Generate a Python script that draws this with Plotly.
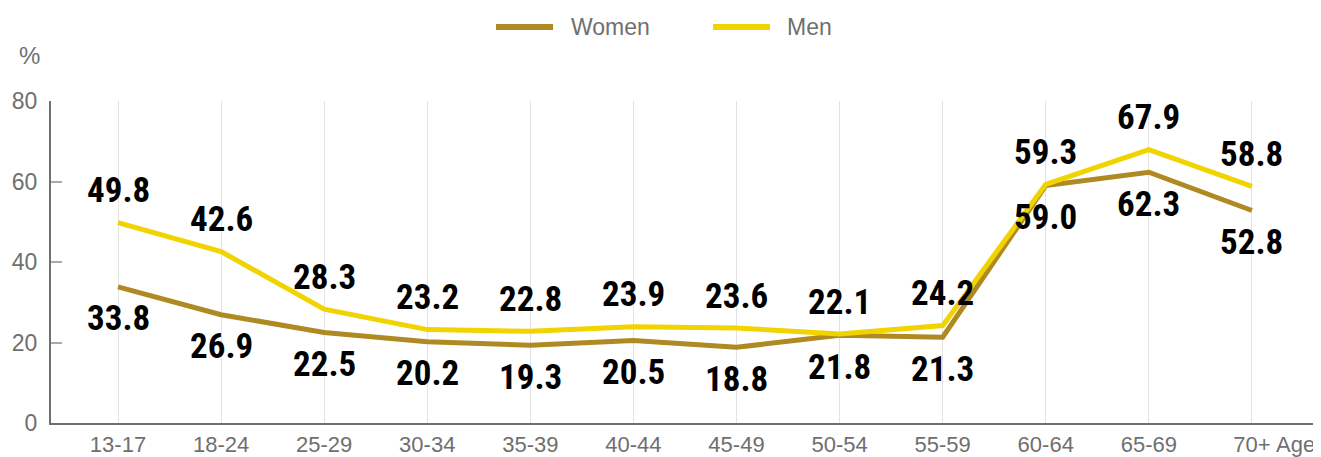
import plotly.graph_objects as go

categories = ["13-17", "18-24", "25-29", "30-34", "35-39", "40-44", "45-49",
              "50-54", "55-59", "60-64", "65-69", "70+"]
women = [33.8, 26.9, 22.5, 20.2, 19.3, 20.5, 18.8, 21.8, 21.3, 59.0, 62.3, 52.8]
men = [49.8, 42.6, 28.3, 23.2, 22.8, 23.9, 23.6, 22.1, 24.2, 59.3, 67.9, 58.8]
y_ticks = [0, 20, 40, 60, 80]
series_names = ["Women", "Men"]

WOMEN_COLOR = "#AF8A22"
MEN_COLOR = "#F1D300"
GRAY = "#6f6f6f"
TEXT_FONT = "Liberation Sans, Arial, sans-serif"
LABEL_FONT = dict(family="Roboto Condensed, Roboto, sans-serif",
                  size=35, color="#000000", weight=700)

x_idx = list(range(len(categories)))

fig = go.Figure()
fig.add_trace(go.Scatter(x=x_idx, y=women, mode="lines", name=series_names[0],
                         line=dict(color=WOMEN_COLOR, width=5), showlegend=False))
fig.add_trace(go.Scatter(x=x_idx, y=men, mode="lines", name=series_names[1],
                         line=dict(color=MEN_COLOR, width=5), showlegend=False))

for i, v in enumerate(men):
    fig.add_annotation(x=i, y=v, text=f"{v:.1f}", showarrow=False, yshift=32,
                       font=LABEL_FONT)
for i, v in enumerate(women):
    fig.add_annotation(x=i, y=v, text=f"{v:.1f}", showarrow=False, yshift=-32,
                       font=LABEL_FONT)

# custom legend
LEG_Y = 1.23
for (x0, x1, xt), name, col in zip([(0.3504, 0.3953, 0.4079), (0.5213, 0.5661, 0.5780)],
                                   series_names, [WOMEN_COLOR, MEN_COLOR]):
    fig.add_shape(type="line", xref="paper", yref="paper", x0=x0, x1=x1, y0=LEG_Y, y1=LEG_Y,
                  line=dict(color=col, width=6))
    fig.add_annotation(xref="paper", yref="paper", x=xt, y=LEG_Y, text=name,
                       showarrow=False, xanchor="left", yanchor="middle",
                       font=dict(family=TEXT_FONT, size=23, color=GRAY))

fig.add_annotation(xref="paper", yref="paper", x=-0.0268, y=1.0, yshift=46,
                   text="%", showarrow=False, xanchor="left", yanchor="middle",
                   font=dict(family=TEXT_FONT, size=24, color=GRAY))
fig.add_annotation(xref="x", yref="paper", x=11.21, y=0, yshift=-21,
                   text="Age", showarrow=False, xanchor="left", yanchor="middle",
                   font=dict(family=TEXT_FONT, size=22, color=GRAY))

# page body has an 8px margin, so the figure is sized to fit the window after that offset
fig.update_layout(
    width=1313, height=449,
    margin=dict(l=43, r=0, t=93, b=34, autoexpand=False),
    plot_bgcolor="white", paper_bgcolor="white",
    font=dict(family=TEXT_FONT, size=22, color=GRAY),
    showlegend=False,
)
fig.update_xaxes(
    range=[-0.65, 11.67], tickmode="array", tickvals=x_idx, ticktext=categories,
    showgrid=True, gridcolor="#e3e3e3", gridwidth=1,
    showline=True, linecolor=GRAY, linewidth=2, ticks="", zeroline=False,
    tickfont=dict(size=22, color=GRAY), automargin=False, ticklabelstandoff=1,
)
fig.update_yaxes(
    range=[0, 80], tickmode="array", tickvals=y_ticks, showgrid=False,
    showline=True, linecolor=GRAY, linewidth=2, ticks="inside", ticklen=11,
    tickcolor="#aaaaaa", tickwidth=2, zeroline=False, automargin=False,
    tickfont=dict(size=23, color=GRAY), ticklabelstandoff=7,
)

fig.write_html("out.html")
